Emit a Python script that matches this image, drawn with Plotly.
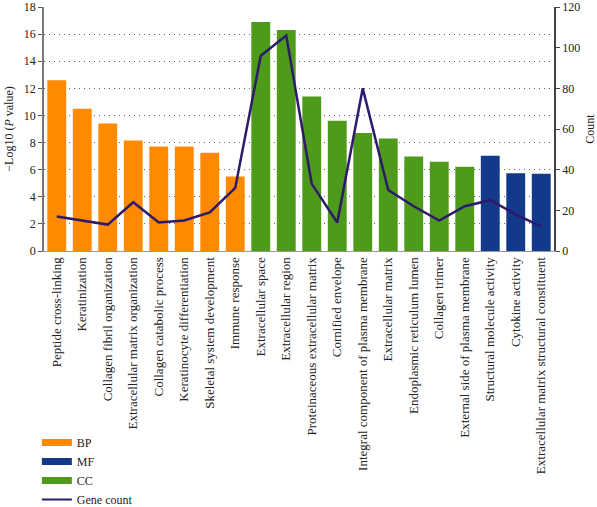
import plotly.graph_objects as go

categories = ["Peptide cross-linking", "Keratinization", "Collagen fibril organization",
              "Extracellular matrix organization", "Collagen catabolic process",
              "Keratinocyte differentiation", "Skeletal system development", "Immune response",
              "Extracellular space", "Extracellular region", "Proteinaceous extracellular matrix",
              "Cornified envelope", "Integral component of plasma membrane", "Extracellular matrix",
              "Endoplasmic reticulum lumen", "Collagen trimer", "External side of plasma membrane",
              "Structural molecule activity", "Cytokine activity",
              "Extracellular matrix structural constituent"]
groups = ["BP"] * 8 + ["CC"] * 9 + ["MF"] * 3
log_p = [12.6, 10.5, 9.4, 8.15, 7.7, 7.7, 7.25, 5.5,
         16.9, 16.3, 11.4, 9.6, 8.7, 8.3, 6.97, 6.58, 6.22,
         7.02, 5.74, 5.69]
gene_count = [17, 15, 13, 24, 14, 15, 19, 31,
              96, 106, 33, 14, 80, 30, 22, 15, 22,
              25, 18, 12]

colors = {"BP": "#FF8A00", "MF": "#12398A", "CC": "#4E9A1B"}
LINE_COLOR = "#2E1A6B"
FONT = "Liberation Serif"

fig = go.Figure()
for g in ["BP", "MF", "CC"]:
    xs = [c for c, gg in zip(categories, groups) if gg == g]
    ys = [v for v, gg in zip(log_p, groups) if gg == g]
    fig.add_trace(go.Bar(x=xs, y=ys, name=g, marker_color=colors[g],
                         marker_line_width=0, width=0.74, showlegend=False))
fig.add_trace(go.Scatter(x=categories, y=gene_count, name="Gene count", mode="lines",
                         line=dict(color=LINE_COLOR, width=2.5), yaxis="y2", showlegend=False))

# legend entries (swatches)
for g in ["BP", "MF", "CC"]:
    fig.add_trace(go.Scatter(x=[None], y=[None], mode="lines", name=g,
                             line=dict(color=colors[g], width=7)))
fig.add_trace(go.Scatter(x=[None], y=[None], mode="lines", name="Gene count",
                         line=dict(color=LINE_COLOR, width=2)))

fig.update_layout(
    width=597, height=507,
    margin=dict(l=44, r=43, t=7, b=256, autoexpand=False),
    plot_bgcolor="white", paper_bgcolor="white",
    barmode="overlay",
    font=dict(family=FONT, size=12, color="#222222"),
    xaxis=dict(type="category", categoryorder="array", categoryarray=categories,
               tickangle=-90, showline=True, linecolor="#999999", linewidth=1,
               ticks="", tickfont=dict(size=13, family=FONT), automargin=False),
    yaxis=dict(range=[0, 18], dtick=2, showgrid=True, gridcolor="#666666", griddash="1px,4px",
               gridwidth=1, showline=True, linecolor="#777777", linewidth=1.5,
               ticks="outside", ticklen=4, tickcolor="#555555", zeroline=False,
               automargin=False, tickfont=dict(size=12), ticklabeloverflow="allow",
               title=dict(text="\u2212Log10 (<i>P</i> value)", font=dict(size=12, family=FONT),
                          standoff=8)),
    yaxis2=dict(range=[0, 120], dtick=20, overlaying="y", side="right", showgrid=False,
                showline=True, linecolor="#444444", linewidth=1.5, ticks="outside",
                ticklen=4, tickcolor="#444444", zeroline=False, automargin=False,
                tickfont=dict(size=12), ticklabeloverflow="allow",
                title=dict(text="Count", font=dict(size=12, family=FONT), standoff=6)),
    legend=dict(x=-0.014, y=-0.725, xanchor="left", yanchor="top", orientation="v",
                font=dict(size=12, family=FONT), bgcolor="rgba(0,0,0,0)",
                tracegroupgap=0, itemwidth=30),
    showlegend=True,
)

fig.write_html("out.html", config={"displayModeBar": False},
               post_script="document.body.style.margin='0';document.body.style.overflow='hidden';")
